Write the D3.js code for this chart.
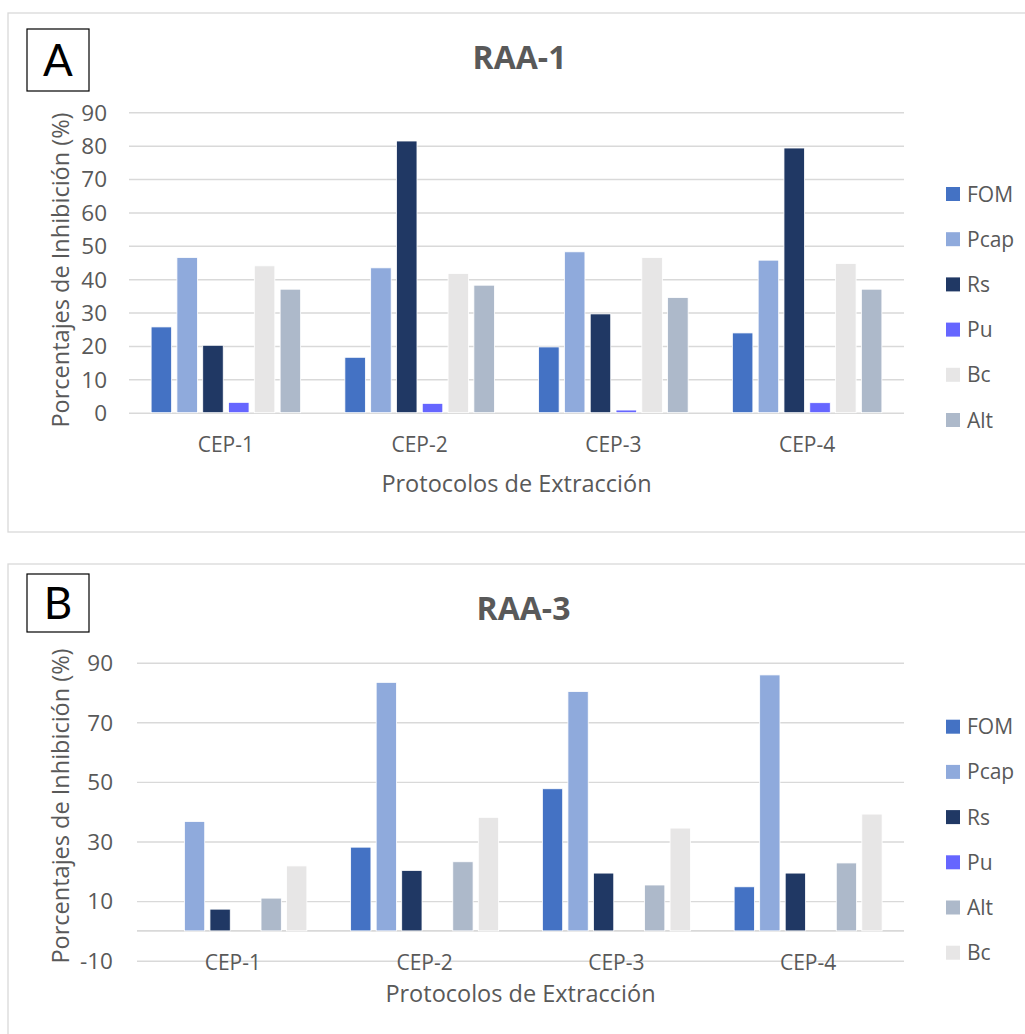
<!DOCTYPE html>
<html>
<head>
<meta charset="utf-8">
<script src="https://cdn.jsdelivr.net/npm/d3@7"></script>
<style>
  html, body { margin: 0; padding: 0; background: #fff; }
  svg { display: block; }
</style>
</head>
<body>
<svg id="fig" width="1025" height="1034"></svg>
<script>
// Extraction protocols (categories on the x axis)
const categories = ["CEP-1", "CEP-2", "CEP-3", "CEP-4"];

// Panel A: RAA-1 — inhibition (%) per pathogen
const seriesA = ["FOM", "Pcap", "Rs", "Pu", "Bc", "Alt"];
const raa1_FOM  = [25.7, 16.6, 19.7, 23.9];
const raa1_Pcap = [46.5, 43.4, 48.2, 45.7];
const raa1_Rs   = [20.2, 81.4, 29.6, 79.3];
const raa1_Pu   = [3.1, 2.8, 0.8, 3.0];
const raa1_Bc   = [44.0, 41.7, 46.5, 44.7];
const raa1_Alt  = [37.0, 38.2, 34.5, 37.0];
const ticksA = [0, 10, 20, 30, 40, 50, 60, 70, 80, 90];

// Panel B: RAA-3 — inhibition (%) per pathogen
const seriesB = ["FOM", "Pcap", "Rs", "Pu", "Alt", "Bc"];
const raa3_FOM  = [0, 28.1, 47.7, 14.8];
const raa3_Pcap = [36.7, 83.4, 80.3, 85.9];
const raa3_Rs   = [7.3, 20.3, 19.4, 19.4];
const raa3_Pu   = [0, 0, 0, 0];
const raa3_Alt  = [11.0, 23.2, 15.4, 22.8];
const raa3_Bc   = [21.8, 38.1, 34.5, 39.2];
const ticksB = [-10, 10, 30, 50, 70, 90];

const colors = {
  FOM: "#4472C4", Pcap: "#8FAADC", Rs: "#203864",
  Pu: "#6666FF", Bc: "#E7E6E6", Alt: "#ADB9CA"
};

const TEXT = "#595959", GRID = "#D9D9D9";
const FONT = "'Open Sans', 'Noto Sans', sans-serif";

const svg = d3.select("#fig");

function buildRows(series, arrays) {
  return categories.map((c, i) => {
    const row = { cat: c };
    series.forEach((s, k) => { row[s] = arrays[k][i]; });
    return row;
  });
}

function drawPanel(cfg) {
  const g = svg.append("g");

  // outer chart frame
  g.append("rect")
    .attr("x", cfg.frame[0]).attr("y", cfg.frame[1])
    .attr("width", cfg.frame[2]).attr("height", cfg.frame[3])
    .attr("fill", "#fff").attr("stroke", GRID).attr("stroke-width", 1.3);

  // panel letter box
  g.append("rect")
    .attr("x", cfg.letterBox[0]).attr("y", cfg.letterBox[1])
    .attr("width", cfg.letterBox[2]).attr("height", cfg.letterBox[3])
    .attr("fill", "#fff").attr("stroke", "#000").attr("stroke-width", 1.2);
  g.append("text")
    .attr("x", cfg.letterBox[0] + cfg.letterBox[2] / 2)
    .attr("y", cfg.letterBox[1] + cfg.letterBox[3] / 2 + 16)
    .attr("text-anchor", "middle")
    .attr("font-family", "Lato, 'Open Sans', sans-serif")
    .attr("font-size", 44).attr("fill", "#000")
    .text(cfg.letter);

  // title
  g.append("text")
    .attr("x", (cfg.left + cfg.right) / 2 + 3).attr("y", cfg.titleY)
    .attr("text-anchor", "middle")
    .attr("font-family", FONT).attr("font-weight", 700)
    .attr("font-size", 32).attr("fill", TEXT)
    .text(cfg.title);

  const y = d3.scaleLinear().domain(cfg.yDomain).range([cfg.bottom, cfg.top]);
  const x0 = d3.scaleBand().domain(categories).range([cfg.left, cfg.right]).padding(0);
  const x1 = d3.scaleBand().domain(cfg.series)
    .range([0, x0.bandwidth()]).paddingInner(0.205).paddingOuter(0.857);

  // y axis with gridlines
  const yAxis = d3.axisLeft(y).tickValues(cfg.ticks)
    .tickSize(-(cfg.right - cfg.left)).tickPadding(cfg.tickPad)
    .tickFormat(d => String(d));
  const ya = g.append("g").attr("transform", `translate(${cfg.left},0)`).call(yAxis);
  ya.select(".domain").remove();
  ya.selectAll(".tick line").attr("stroke", GRID).attr("stroke-width", 1.4);
  ya.selectAll(".tick text").attr("font-family", FONT).attr("font-size", 22.5)
    .attr("fill", TEXT).attr("dy", "0.35em");

  // zero baseline (category axis line)
  if (cfg.zeroLine) {
    g.append("line")
      .attr("x1", cfg.left).attr("x2", cfg.right)
      .attr("y1", y(0)).attr("y2", y(0))
      .attr("stroke", GRID).attr("stroke-width", 1.6);
  }

  // bars
  const rows = buildRows(cfg.series, cfg.values);
  const groups = g.append("g").selectAll("g").data(rows).join("g")
    .attr("transform", d => `translate(${x0(d.cat)},0)`);
  groups.selectAll("rect")
    .data(d => cfg.series.map(s => ({ key: s, value: d[s] })).filter(d => d.value > 0))
    .join("rect")
    .attr("x", d => x1(d.key))
    .attr("width", x1.bandwidth())
    .attr("y", d => y(d.value))
    .attr("height", d => y(0) - y(d.value))
    .attr("fill", d => colors[d.key])
    .attr("stroke", "#fff").attr("stroke-width", 0.8);

  // category labels
  g.append("g").selectAll("text").data(categories).join("text")
    .attr("x", d => x0(d) + x0.bandwidth() / 2)
    .attr("y", cfg.catY)
    .attr("text-anchor", "middle")
    .attr("font-family", FONT).attr("font-size", 21).attr("fill", TEXT)
    .text(d => d);

  // axis titles
  g.append("text")
    .attr("x", (cfg.left + cfg.right) / 2).attr("y", cfg.xTitleY)
    .attr("text-anchor", "middle")
    .attr("font-family", FONT).attr("font-size", 23.5).attr("fill", TEXT)
    .text("Protocolos de Extracción");
  g.append("text")
    .attr("transform", `translate(${cfg.yTitleX},${cfg.yTitleCY}) rotate(-90)`)
    .attr("text-anchor", "middle")
    .attr("font-family", FONT).attr("font-size", 23.5).attr("fill", TEXT)
    .text("Porcentajes de Inhibición (%)");

  // legend
  const lg = g.append("g").selectAll("g").data(cfg.series).join("g")
    .attr("transform", (d, i) => `translate(946,${cfg.legendY + i * 45.2})`);
  lg.append("rect").attr("x", 0).attr("y", -7).attr("width", 14).attr("height", 14)
    .attr("fill", d => colors[d]);
  lg.append("text").attr("x", 21).attr("y", 0).attr("dy", "0.36em")
    .attr("font-family", FONT).attr("font-size", 21).attr("fill", TEXT)
    .text(d => d);
}

drawPanel({
  letter: "A", title: "RAA-1",
  frame: [8, 13, 1030, 519], letterBox: [27, 29, 62, 62],
  titleY: 69,
  left: 129, right: 904, top: 112.3, bottom: 412.7,
  yDomain: [0, 90], ticks: ticksA, tickPad: 22, zeroLine: false,
  series: seriesA,
  values: [raa1_FOM, raa1_Pcap, raa1_Rs, raa1_Pu, raa1_Bc, raa1_Alt],
  catY: 451.5, xTitleY: 492, yTitleX: 69, yTitleCY: 270,
  legendY: 194
});

drawPanel({
  letter: "B", title: "RAA-3",
  frame: [8, 564, 1030, 500], letterBox: [27, 574, 62, 58],
  titleY: 620,
  left: 137, right: 904, top: 662.7, bottom: 960.7,
  yDomain: [-10, 90], ticks: ticksB, tickPad: 24, zeroLine: true,
  series: seriesB,
  values: [raa3_FOM, raa3_Pcap, raa3_Rs, raa3_Pu, raa3_Alt, raa3_Bc],
  catY: 970, xTitleY: 1002, yTitleX: 69, yTitleCY: 806,
  legendY: 726.7
});
</script>
</body>
</html>
